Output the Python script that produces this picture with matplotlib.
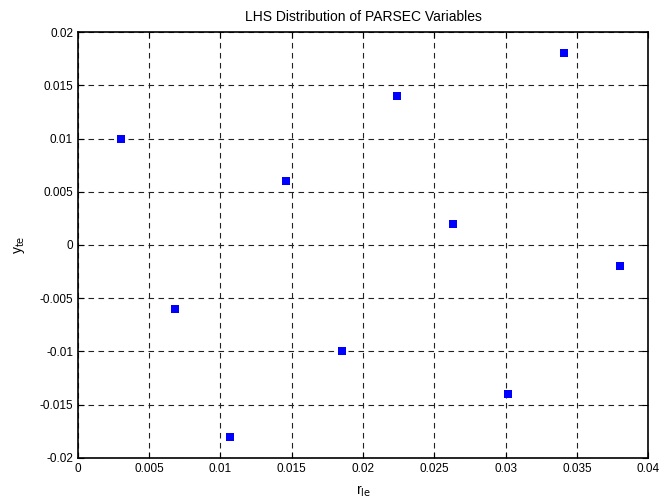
import matplotlib
matplotlib.use("Agg")
import matplotlib.pyplot as plt
from matplotlib.ticker import FormatStrFormatter, MultipleLocator

plt.rcParams['font.family'] = ['Liberation Sans', 'DejaVu Sans']
plt.rcParams['axes.unicode_minus'] = False

# LHS samples of the PARSEC parameters
r_le = [0.0030, 0.0068, 0.0107, 0.0146, 0.0185, 0.0224, 0.0263, 0.0302, 0.0341, 0.0380]
y_te = [0.010, -0.006, -0.018, 0.006, -0.010, 0.014, 0.002, -0.014, 0.018, -0.002]

fig = plt.figure(figsize=(6.6, 5.01), dpi=100)
ax = fig.add_axes([0.118, 0.086, 0.864, 0.850])

ax.plot(r_le, y_te, 's', color='#0000ff', markersize=6, markeredgewidth=0)

ax.set_xlim(0, 0.04)
ax.set_ylim(-0.02, 0.02)
ax.xaxis.set_major_locator(MultipleLocator(0.005))
ax.yaxis.set_major_locator(MultipleLocator(0.005))
ax.xaxis.set_major_formatter(FormatStrFormatter('%g'))
ax.yaxis.set_major_formatter(FormatStrFormatter('%g'))

ax.grid(True, color='#222222', linestyle=(0, (5, 4)), linewidth=0.8)
ax.tick_params(direction='in', top=True, right=True, length=4, labelsize=8.5, width=0.8)
for s in ax.spines.values():
    s.set_linewidth(1.2)

ax.set_title('LHS Distribution of PARSEC Variables', fontsize=10, pad=8)
ax.set_xlabel('r$_{\\mathrm{le}}$', fontsize=10, labelpad=6)
ax.set_ylabel('y$_{\\mathrm{te}}$', fontsize=10, labelpad=9)

fig.savefig('out.png', dpi=100)
